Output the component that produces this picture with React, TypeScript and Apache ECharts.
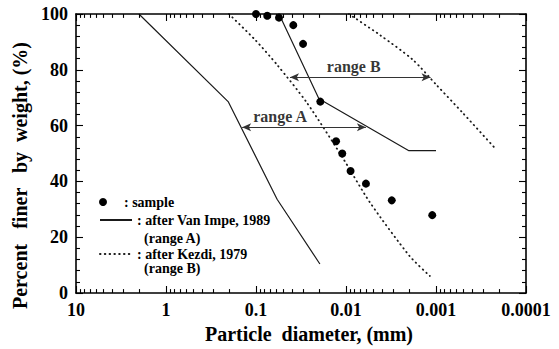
import React, { useEffect, useRef } from "react";
import * as echarts from "echarts";

// ---- data ----
const tickValues = [10, 1, 0.1, 0.01, 0.001, 0.0001];
const tickLabels = ["10", "1", "0.1", "0.01", "0.001", "0.0001"];
const yTicks = [0, 20, 40, 60, 80, 100];
const yMinorTicks = [4, 8, 12, 16, 24, 28, 32, 36, 44, 48, 52, 56, 64, 68, 72, 76, 84, 88, 92, 96];

const sampleDiam = [0.1, 0.075, 0.0555, 0.0385, 0.03, 0.0193, 0.0129, 0.011, 0.0089, 0.006, 0.0031, 0.0011];
const samplePct = [100, 99.4, 98.7, 96, 89.3, 68.6, 54.4, 50, 43.7, 39.2, 33.2, 27.9];

const vanImpeLowerDiam = [2, 0.204, 0.0583, 0.0195];
const vanImpeLowerPct = [100, 68.6, 33.6, 10.4];
const vanImpeUpperDiam = [0.0555, 0.02, 0.002, 0.001];
const vanImpeUpperPct = [100, 69.6, 51, 51];

const kezdiLowerDiam = [0.2, 0.102, 0.0583, 0.0272, 0.0111, 0.00543, 0.00196, 0.00117];
const kezdiLowerPct = [100, 90.7, 81.8, 68.2, 48.9, 32.5, 13.2, 6.1];
const kezdiUpperDiam = [0.0093, 0.00421, 0.00181, 0.00099, 0.000506, 0.000214];
const kezdiUpperPct = [100, 92.5, 83.6, 74.6, 64.6, 51.4];

const rangeAFrom = 0.1426;
const rangeATo = 0.00601;
const rangeAPct = 59.4;
const rangeBFrom = 0.0419;
const rangeBTo = 0.00115;
const rangeBPct = 77.3;
const rangeLabels = ["range A", "range B"];
const rangeLabelDiam = [0.054, 0.0082];
const rangeLabelPct = [63.2, 81.2];

const minorMultipliers = [2, 3, 4, 5, 6, 7, 8, 9];
const minorDecades = [0.0001, 0.001, 0.01, 0.1, 1];

const FONT = '"Liberation Serif", "Times New Roman", serif';
const INK = "#000";

const zip = (a: number[], b: number[]) => a.map((v, i) => [v, b[i]]);

function tickFormatter(v: number) {
  const i = tickValues.findIndex((t) => Math.abs(Math.log10(t) - Math.log10(v)) < 1e-6);
  return i >= 0 ? tickLabels[i] : "";
}

export default function App() {
  const ref = useRef<HTMLDivElement>(null);

  useEffect(() => {
    if (!ref.current) return;
    const chart = echarts.init(ref.current, undefined, { renderer: "svg" });

    const minorTickValues = minorDecades.flatMap((d) => minorMultipliers.map((m) => m * d));

    // tick segments in axis units (grid: 280 px per 100 %, ~90 px per decade)
    const yLenMajor = 2.5;
    const yLenMinor = 1.4;
    const xFacMajor = Math.pow(10, -7 / 90);
    const xFacMinor = Math.pow(10, -4 / 90);
    const seg = (a: number[], b: number[]) => [{ coord: a }, { coord: b }];
    const tickSegments = [
      ...tickValues.flatMap((v) => [seg([v, 0], [v, yLenMajor]), seg([v, 100], [v, 100 - yLenMajor])]),
      ...minorTickValues.flatMap((v) => [seg([v, 0], [v, yLenMinor]), seg([v, 100], [v, 100 - yLenMinor])]),
      ...yTicks.flatMap((v) => [seg([10, v], [10 * xFacMajor, v]), seg([0.0001, v], [0.0001 / xFacMajor, v])]),
      ...yMinorTicks.flatMap((v) => [seg([10, v], [10 * xFacMinor, v]), seg([0.0001, v], [0.0001 / xFacMinor, v])]),
    ];

    const xBase = {
      type: "log" as const,
      logBase: 10,
      min: 0.0001,
      max: 10,
      inverse: true,
      axisLine: { show: true, onZero: false, lineStyle: { color: INK, width: 1.6 } },
      axisTick: { show: false },
      splitLine: { show: false },
      minorSplitLine: { show: false },
    };
    const yBase = {
      type: "value" as const,
      min: 0,
      max: 100,
      interval: 20,
      axisLine: { show: true, onZero: false, lineStyle: { color: INK, width: 1.6 } },
      axisTick: { show: false },
      splitLine: { show: false },
    };

    const lineStyleSolid = { color: "#1a1a1a", width: 1.2, type: "solid" as const };
    const lineStyleDot = { color: "#1a1a1a", width: 1.8, type: [0.5, 4.3], cap: "round" as const };

    const legendText = { fontFamily: FONT, fontWeight: "bold", fontSize: 14, color: INK, lineHeight: 14 };

    chart.setOption({
      animation: false,
      backgroundColor: "#fff",
      grid: { left: 76, top: 14, width: 450, height: 280, containLabel: false },
      xAxis: [
        {
          ...xBase,
          position: "bottom",
          name: "Particle  diameter, (mm)",
          nameLocation: "middle",
          nameGap: 31,
          nameTextStyle: { fontFamily: FONT, fontWeight: "bold", fontSize: 20, color: INK, padding: [0, 0, 0, 16] },
          axisLabel: {
            show: true,
            margin: 8,
            fontFamily: FONT,
            fontWeight: "bold",
            fontSize: 18,
            color: INK,
            showMinLabel: true,
            showMaxLabel: true,
            formatter: tickFormatter,
          },
        },
        {
          ...xBase,
          position: "top",
          axisLabel: { show: false },
        },
      ],
      yAxis: [
        {
          ...yBase,
          position: "left",
          name: "Percent   finer   by  weight, (%)",
          nameLocation: "middle",
          nameGap: 41,
          nameTextStyle: { fontFamily: FONT, fontWeight: "bold", fontSize: 20, color: INK, padding: [0, 44, 0, 0] },
          axisLabel: {
            show: true,
            margin: 8,
            fontFamily: FONT,
            fontWeight: "bold",
            fontSize: 18,
            color: INK,
            formatter: (v: number) => (yTicks.includes(v) ? String(v) : ""),
          },
        },
        {
          ...yBase,
          position: "right",
          axisLabel: { show: false },
        },
      ],
      legend: [
        {
          data: ["sample"],
          left: 99,
          top: 195,
          padding: 0,
          itemWidth: 32,
          itemHeight: 8,
          selectedMode: false,
          formatter: () => ": sample",
          textStyle: legendText,
        },
        {
          data: ["Van Impe"],
          left: 99,
          top: 213,
          padding: 0,
          itemWidth: 32,
          itemHeight: 8,
          selectedMode: false,
          itemStyle: { opacity: 0 },
          formatter: () => ": after Van Impe, 1989",
          textStyle: legendText,
        },
        {
          data: ["Kezdi"],
          left: 99,
          top: 247,
          padding: 0,
          itemWidth: 32,
          itemHeight: 8,
          selectedMode: false,
          itemStyle: { opacity: 0 },
          formatter: () => ": after Kezdi, 1979",
          textStyle: legendText,
        },
      ],
      graphic: [
        {
          type: "text",
          left: 144,
          top: 231,
          silent: true,
          style: { text: "(range A)", font: `bold 14px ${FONT}`, fill: INK, lineHeight: 14 },
        },
        {
          type: "text",
          left: 144,
          top: 261,
          silent: true,
          style: { text: "(range B)", font: `bold 14px ${FONT}`, fill: INK, lineHeight: 14 },
        },
      ],
      series: [
        {
          name: "sample",
          type: "scatter",
          symbol: "circle",
          symbolSize: 8,
          itemStyle: { color: INK, opacity: 1 },
          data: zip(sampleDiam, samplePct),
          clip: false,
          silent: true,
          z: 5,
        },
        {
          name: "Van Impe",
          type: "line",
          symbol: "none",
          lineStyle: lineStyleSolid,
          itemStyle: { color: "#1a1a1a" },
          data: zip(vanImpeLowerDiam, vanImpeLowerPct),
          silent: true,
          markLine: {
            silent: true,
            symbol: ["arrow", "arrow"],
            symbolSize: [6, 9],
            label: { show: false },
            lineStyle: { color: "#333", width: 1, type: "solid" },
            data: [
              [{ coord: [rangeAFrom, rangeAPct] }, { coord: [rangeATo, rangeAPct] }],
              [{ coord: [rangeBFrom, rangeBPct] }, { coord: [rangeBTo, rangeBPct] }],
            ],
          },
        },
        {
          name: "Van Impe",
          type: "line",
          symbol: "none",
          lineStyle: lineStyleSolid,
          itemStyle: { color: "#1a1a1a" },
          data: zip(vanImpeUpperDiam, vanImpeUpperPct),
          silent: true,
        },
        {
          name: "Kezdi",
          type: "line",
          symbol: "none",
          smooth: 0.25,
          lineStyle: lineStyleDot,
          itemStyle: { color: "#1a1a1a" },
          data: zip(kezdiLowerDiam, kezdiLowerPct),
          silent: true,
        },
        {
          name: "Kezdi",
          type: "line",
          symbol: "none",
          smooth: 0.25,
          lineStyle: lineStyleDot,
          itemStyle: { color: "#1a1a1a" },
          data: zip(kezdiUpperDiam, kezdiUpperPct),
          silent: true,
        },
        {
          name: "range labels",
          type: "scatter",
          symbolSize: 0,
          silent: true,
          data: rangeLabels.map((t, i) => [rangeLabelDiam[i], rangeLabelPct[i], t]),
          label: {
            show: true,
            position: "inside",
            formatter: (p: any) => p.data[2],
            fontFamily: FONT,
            fontWeight: "bold",
            fontSize: 16,
            color: INK,
          },
          markLine: {
            silent: true,
            symbol: ["none", "none"],
            label: { show: false },
            emphasis: { disabled: true },
            lineStyle: { color: "#000", width: 1.1, type: "solid" },
            data: tickSegments,
          },
        },
      ],
    });

    return () => chart.dispose();
  }, []);

  return (
    <div
      ref={ref}
      style={{ position: "fixed", left: 0, top: 0, width: 559, height: 349, background: "#fff" }}
    />
  );
}
